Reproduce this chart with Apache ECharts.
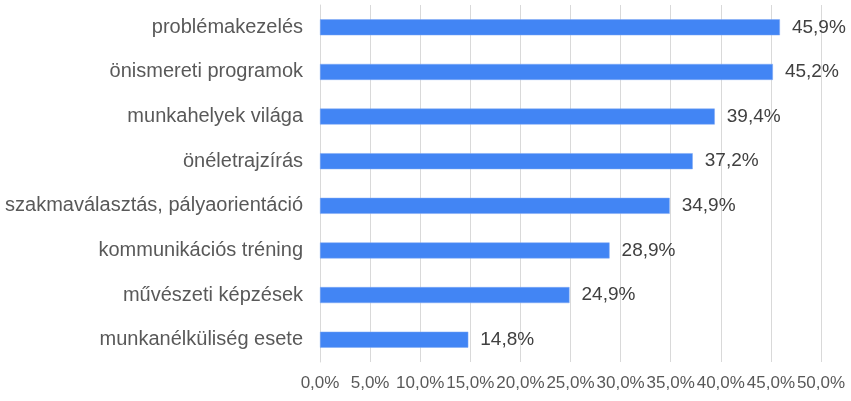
<!DOCTYPE html>
<html>
<head>
<meta charset="utf-8">
<script src="https://cdn.jsdelivr.net/npm/echarts@6/dist/echarts.min.js"></script>
<style>
  html, body { margin: 0; padding: 0; background: #ffffff; }
  #chart { width: 851px; height: 401px; }
</style>
</head>
<body>
<div id="chart"></div>
<script>
// kategóriák alulról felfelé (az y tengely alulról rajzol)
const categories = [
  'munkanélküliség esete',
  'művészeti képzések',
  'kommunikációs tréning',
  'szakmaválasztás, pályaorientáció',
  'önéletrajzírás',
  'munkahelyek világa',
  'önismereti programok',
  'problémakezelés'
]
const values = [14.8, 24.9, 28.9, 34.9, 37.2, 39.4, 45.2, 45.9]
const axisMin = 0
const axisMax = 50
const axisStep = 5

const fmt = (v) => v.toFixed(1).replace('.', ',') + '%'

const chart = echarts.init(document.getElementById('chart'))
chart.setOption({
  animation: false,
  textStyle: { fontFamily: 'Liberation Sans, Arial, sans-serif' },
  grid: { left: 320, right: 30, top: 5, bottom: 39, containLabel: false },
  xAxis: {
    type: 'value',
    min: axisMin,
    max: axisMax,
    interval: axisStep,
    axisLine: { show: false },
    axisTick: { show: false },
    splitLine: { lineStyle: { color: '#d9d9d9', width: 1 } },
    axisLabel: {
      formatter: fmt,
      color: '#595959',
      fontSize: 17,
      margin: 13,
      hideOverlap: false,
      showMinLabel: true,
      showMaxLabel: true
    }
  },
  yAxis: {
    type: 'category',
    data: categories,
    axisLine: { show: true, lineStyle: { color: '#d9d9d9' } },
    axisTick: { show: false },
    axisLabel: { color: '#595959', fontSize: 20, margin: 17 }
  },
  series: [
    {
      type: 'bar',
      data: values,
      barWidth: 16,
      itemStyle: { color: '#4285f4', borderColor: '#7fa9f5', borderWidth: 0.5 },
      label: {
        show: true,
        position: 'right',
        distance: 12,
        formatter: (p) => fmt(p.value),
        color: '#404040',
        fontSize: 19
      }
    }
  ]
})
</script>
</body>
</html>
